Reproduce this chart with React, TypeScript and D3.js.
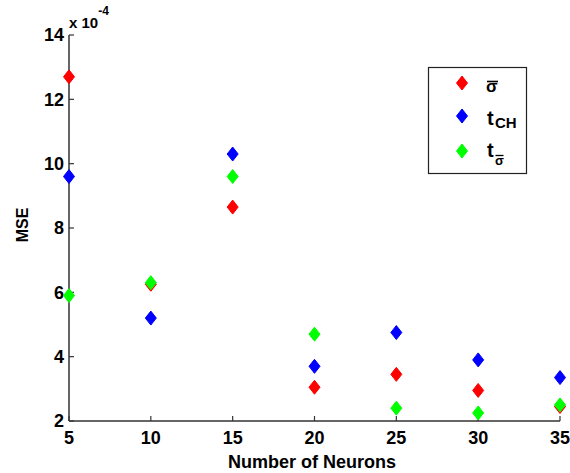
import React, { useEffect, useRef } from "react";
import * as d3 from "d3";

const neurons = [5, 10, 15, 20, 25, 30, 35];
const sigmaBar = [12.7, 6.25, 8.65, 3.05, 3.45, 2.95, 2.45];
const tCH = [9.6, 5.2, 10.3, 3.7, 4.75, 3.9, 3.35];
const tSigma = [5.9, 6.3, 9.6, 4.7, 2.4, 2.25, 2.5];
const yTicks = [2, 4, 6, 8, 10, 12, 14];
const xTicks = [5, 10, 15, 20, 25, 30, 35];

const series = [
  { key: "sigma", values: sigmaBar, color: "#ff0000" },
  { key: "tch", values: tCH, color: "#0000ff" },
  { key: "tsigma", values: tSigma, color: "#00ff00" },
];

function drawChart(container: SVGSVGElement) {
  const width = 570,
    height = 473;
  const left = 69,
    right = 560,
    top = 35,
    bottom = 421;
  const font = "'Liberation Sans', Arial, sans-serif";
  const axisColor = "#333333";

  const svg = d3.select(container);
  svg.selectAll("*").remove();
  svg.attr("width", width).attr("height", height);

  svg.append("rect").attr("width", width).attr("height", height).attr("fill", "#ffffff");

  const x = d3.scaleLinear().domain([5, 35]).range([left, right]);
  const y = d3.scaleLinear().domain([2, 14]).range([bottom, top]);

  // axis lines (left and bottom only)
  svg
    .append("line")
    .attr("x1", left)
    .attr("x2", left)
    .attr("y1", top)
    .attr("y2", bottom)
    .attr("stroke", axisColor)
    .attr("stroke-width", 1.5);
  svg
    .append("line")
    .attr("x1", left)
    .attr("x2", right)
    .attr("y1", bottom)
    .attr("y2", bottom)
    .attr("stroke", axisColor)
    .attr("stroke-width", 1.5);

  // y ticks (inward)
  yTicks.forEach((t) => {
    svg
      .append("line")
      .attr("x1", left)
      .attr("x2", left + 5)
      .attr("y1", y(t))
      .attr("y2", y(t))
      .attr("stroke", axisColor)
      .attr("stroke-width", 1.2);
    svg
      .append("text")
      .attr("x", left - 5)
      .attr("y", y(t))
      .attr("dy", "0.36em")
      .attr("text-anchor", "end")
      .attr("font-family", font)
      .attr("font-weight", "bold")
      .attr("font-size", 18)
      .attr("fill", "#000")
      .text(t);
  });

  // x ticks (inward)
  xTicks.forEach((t) => {
    svg
      .append("line")
      .attr("x1", x(t))
      .attr("x2", x(t))
      .attr("y1", bottom)
      .attr("y2", bottom - 5)
      .attr("stroke", axisColor)
      .attr("stroke-width", 1.2);
    svg
      .append("text")
      .attr("x", x(t))
      .attr("y", bottom + 23)
      .attr("text-anchor", "middle")
      .attr("font-family", font)
      .attr("font-weight", "bold")
      .attr("font-size", 18)
      .attr("fill", "#000")
      .text(t);
  });

  // exponent label
  const expo = svg
    .append("text")
    .attr("x", left)
    .attr("y", 28)
    .attr("font-family", font)
    .attr("font-weight", "bold")
    .attr("font-size", 15)
    .attr("fill", "#000");
  expo.append("tspan").text("x 10");
  expo.append("tspan").attr("dy", -13).attr("font-size", 12).text("-4");

  // axis titles
  svg
    .append("text")
    .attr("transform", `translate(28,225) rotate(-90)`)
    .attr("text-anchor", "middle")
    .attr("font-family", font)
    .attr("font-weight", "bold")
    .attr("font-size", 16)
    .attr("fill", "#000")
    .text("MSE");
  svg
    .append("text")
    .attr("x", 312)
    .attr("y", 468)
    .attr("text-anchor", "middle")
    .attr("font-family", font)
    .attr("font-weight", "bold")
    .attr("font-size", 18)
    .attr("fill", "#000")
    .text("Number of Neurons");

  const diamond = (cx: number, cy: number) =>
    `M${cx},${cy - 7}L${cx + 5.5},${cy}L${cx},${cy + 7}L${cx - 5.5},${cy}Z`;

  series.forEach((s) => {
    svg
      .append("g")
      .selectAll("path")
      .data(s.values)
      .join("path")
      .attr("d", (d, i) => diamond(x(neurons[i]), y(d)))
      .attr("fill", s.color)
      .attr("stroke", s.color)
      .attr("stroke-width", 1);
  });

  // legend
  const lg = svg.append("g");
  lg.append("rect")
    .attr("x", 428.5)
    .attr("y", 67.5)
    .attr("width", 98)
    .attr("height", 106)
    .attr("fill", "#fff")
    .attr("stroke", "#222")
    .attr("stroke-width", 1.2);
  const rows = [83, 116, 151];
  series.forEach((s, i) => {
    lg.append("path")
      .attr("d", diamond(462, rows[i]))
      .attr("fill", s.color)
      .attr("stroke", s.color);
  });
  const txt = (xx: number, yy: number, size: number) =>
    lg
      .append("text")
      .attr("x", xx)
      .attr("y", yy)
      .attr("font-family", font)
      .attr("font-weight", "bold")
      .attr("font-size", size)
      .attr("fill", "#000");
  // sigma bar
  txt(486, 92, 17).text("σ");
  lg.append("line")
    .attr("x1", 487)
    .attr("x2", 498)
    .attr("y1", 81.5)
    .attr("y2", 81.5)
    .attr("stroke", "#000")
    .attr("stroke-width", 1.6);
  // t_CH
  txt(487, 125, 20).text("t");
  txt(495, 128, 15).text("CH");
  // t_sigmabar
  txt(487, 157, 20).text("t");
  txt(495, 165, 13).text("σ");
  lg.append("line")
    .attr("x1", 495.5)
    .attr("x2", 503.5)
    .attr("y1", 155.5)
    .attr("y2", 155.5)
    .attr("stroke", "#000")
    .attr("stroke-width", 1.3);
}

export default function App() {
  const ref = useRef<SVGSVGElement>(null);
  useEffect(() => {
    if (ref.current) drawChart(ref.current);
  }, []);
  return (
    <svg
      ref={ref}
      style={{ display: "block", position: "absolute", left: 0, top: 0 }}
    />
  );
}
